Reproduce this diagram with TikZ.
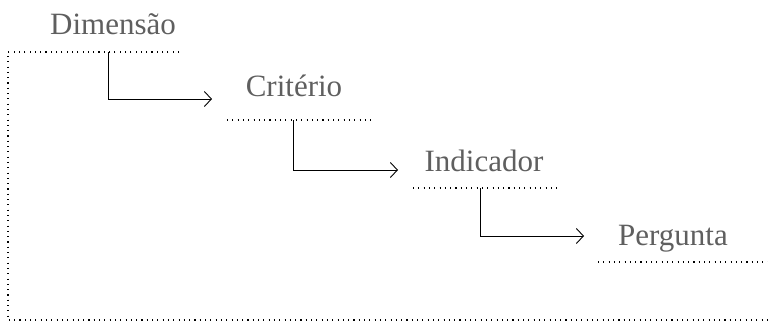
\documentclass[tikz,border=0pt]{standalone}
\usepackage{fontspec}
\setmainfont{Liberation Serif}
\usetikzlibrary{positioning, arrows.meta}
\definecolor{labelgray}{RGB}{95,95,95}

\begin{document}
\begin{tikzpicture}[x=1pt,y=-1pt]

	\tikzstyle{every node}=[font=\fontsize{31}{37}\selectfont, text=labelgray, inner sep=0pt]
	\tikzstyle{dotline} = [line width=1.1pt, dash pattern=on 1.1pt off 4.2pt]
	\tikzstyle{arrow} = [line width=0.9pt, -{Straight Barb[length=7pt,width=15pt]}]

	\useasboundingbox (0,0) rectangle (768,322);

	\node[anchor=base] (dim)  at (113,34)  {Dimensão};
	\node[anchor=base] (crit) at (294,96)  {Critério};
	\node[anchor=base] (ind)  at (484,171) {Indicador};
	\node[anchor=base] (perg) at (673,245) {Pergunta};

	% linhas pontilhadas
	\draw[dotline] (179,52) -- (8,52) -- (8,320) -- (768,320);
	\draw[dotline] (227,120) -- (372,120);
	\draw[dotline] (413,188) -- (557,188);
	\draw[dotline] (598,262) -- (768,262);

	\coordinate (dimout)  at (108,52);
	\coordinate (critin)  at (212,99);
	\coordinate (critout) at (293,120);
	\coordinate (indin)   at (398,170);
	\coordinate (indout)  at (480,188);
	\coordinate (pergin)  at (584,236);

	\draw[arrow] (dimout)  |- (critin);
	\draw[arrow] (critout) |- (indin);
	\draw[arrow] (indout)  |- (pergin);

\end{tikzpicture}
\end{document}
